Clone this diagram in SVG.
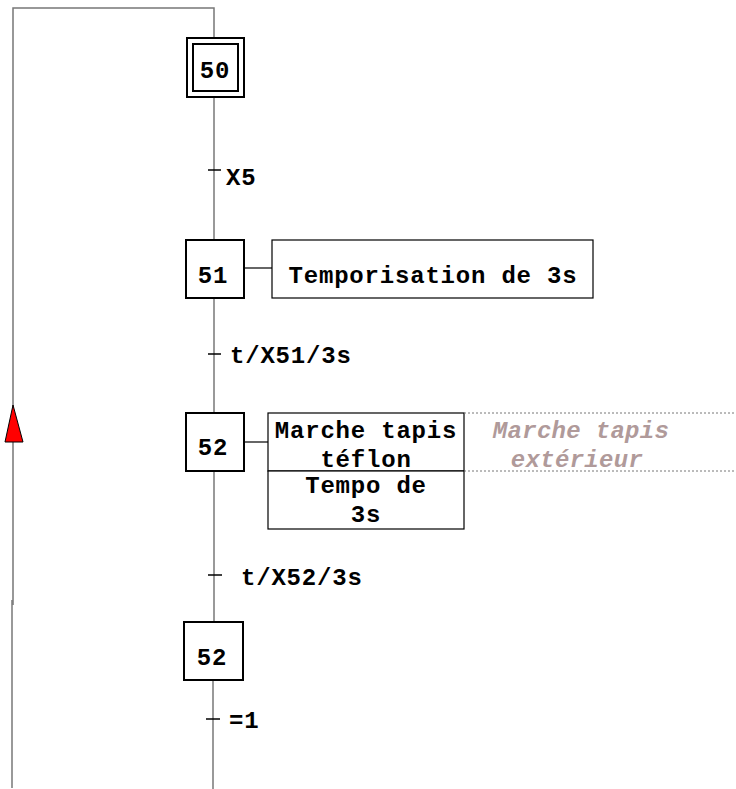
<svg xmlns="http://www.w3.org/2000/svg" width="736" height="789" viewBox="0 0 736 789">
<style>
.t{font-family:"Liberation Mono","Courier New",monospace;font-weight:bold;font-size:24px;letter-spacing:0.8px;fill:#000}
.g{font-family:"Liberation Mono","Courier New",monospace;font-weight:bold;font-style:italic;font-size:24px;letter-spacing:0.3px;fill:#b09a9a}
.box{fill:#fff;stroke:#000;stroke-width:2}
.abox{fill:#fff;stroke:#000;stroke-width:1.2}
.ln{stroke:#777;stroke-width:1.5;fill:none}
.tick{stroke:#000;stroke-width:1.5}
</style>
<rect width="736" height="789" fill="#fff"/>
<g id="connectors">
<path class="ln" d="M214,38 V8 H13 V605"/>
<path class="ln" d="M12,600 V788"/>
<path class="ln" d="M214,97 V240"/>
<path class="ln" d="M214,298 V412"/>
<path class="ln" d="M214,471 V622"/>
<path class="ln" d="M213,680 V789"/>
<line class="tick" x1="208" y1="170" x2="221" y2="170"/>
<line class="tick" x1="208" y1="354" x2="221" y2="354"/>
<line class="tick" x1="208" y1="575" x2="222" y2="575"/>
<line class="tick" x1="206" y1="719" x2="220" y2="719"/>
<line stroke="#000" stroke-width="1.2" x1="244" y1="268" x2="272" y2="268"/>
<line stroke="#000" stroke-width="1.2" x1="244" y1="442" x2="268" y2="442"/>
<polygon points="13,405 5,442 23,442" fill="#f00" stroke="#000" stroke-width="1"/>
</g>
<g id="step50">
<rect class="box" x="187" y="38" width="57" height="59"/>
<rect class="box" x="193" y="44" width="45" height="47"/>
<text class="t" x="215" y="78" text-anchor="middle">50</text>
</g>
<g id="t1"><text class="t" x="226" y="185">X5</text></g>
<g id="step51">
<rect class="box" x="186" y="240" width="58" height="58"/>
<text class="t" x="213" y="283" text-anchor="middle">51</text>
</g>
<g id="action51">
<rect class="abox" x="272" y="240" width="321" height="58"/>
<text class="t" x="433" y="283" text-anchor="middle">Temporisation de 3s</text>
</g>
<g id="t2"><text class="t" x="230" y="363">t/X51/3s</text></g>
<g id="step52">
<rect class="box" x="186" y="413" width="58" height="58"/>
<text class="t" x="213" y="455" text-anchor="middle">52</text>
</g>
<g id="action52">
<rect class="abox" x="268" y="413" width="196" height="58"/>
<rect class="abox" x="268" y="471" width="196" height="58"/>
<text class="t" x="366" y="438" text-anchor="middle">Marche tapis</text>
<text class="t" x="366" y="467" text-anchor="middle">téflon</text>
<text class="t" x="366" y="493" text-anchor="middle">Tempo de</text>
<text class="t" x="366" y="522" text-anchor="middle">3s</text>
</g>
<g id="action52ext">
<path d="M464,413 H736 M464,471 H736" stroke="#777" stroke-width="1" stroke-dasharray="2,2" fill="none"/>
<text class="g" x="581" y="438" text-anchor="middle">Marche tapis</text>
<text class="g" x="577" y="467" text-anchor="middle">extérieur</text>
</g>
<g id="t3"><text class="t" x="241" y="585">t/X52/3s</text></g>
<g id="step52b">
<rect class="box" x="184" y="622" width="59" height="58"/>
<text class="t" x="212" y="665" text-anchor="middle">52</text>
</g>
<g id="t4"><text class="t" x="229" y="728">=1</text></g>
</svg>
